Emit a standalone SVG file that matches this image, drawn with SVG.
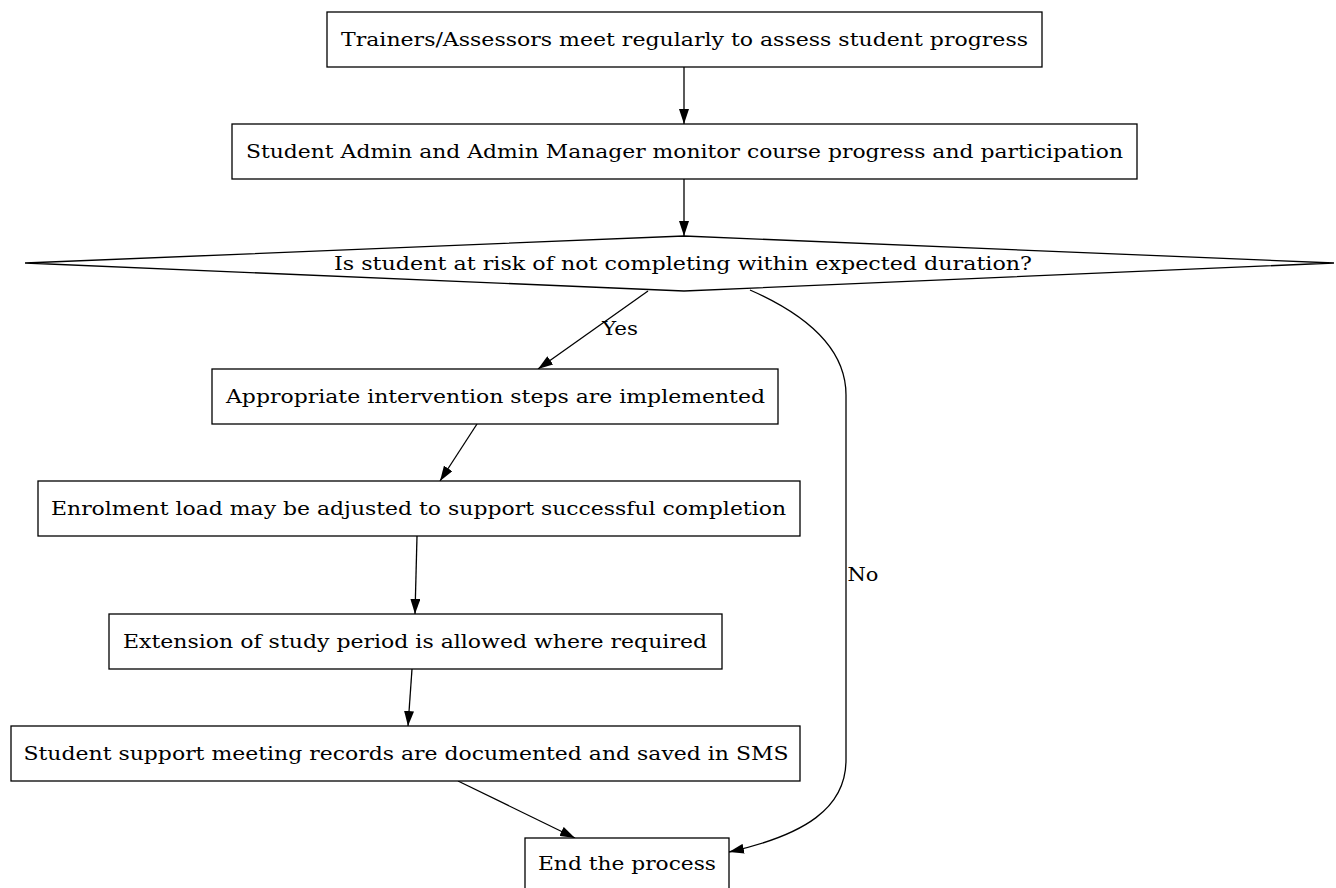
<svg xmlns="http://www.w3.org/2000/svg" width="1336" height="888" viewBox="0 0 1336 888">
<defs>
<marker id="ah" viewBox="0 0 15 10" refX="15" refY="5" markerWidth="15" markerHeight="10" markerUnits="userSpaceOnUse" orient="auto">
<path d="M0,0 L15,5 L0,10 Z" fill="#000"/>
</marker>
<style>
.n{fill:#fff;stroke:#000;stroke-width:1.3}
.t{font-family:"DejaVu Serif","Liberation Serif",serif;font-size:18.7px;fill:#000;text-anchor:middle}
.e{fill:none;stroke:#000;stroke-width:1.3;marker-end:url(#ah)}
</style>
</defs>
<rect width="1336" height="888" fill="#fff"/>
<g id="connectors">
<path class="e" d="M684,67 L684,124"/>
<path class="e" d="M684,179 L684,236"/>
<path class="e" d="M648,291 L538,369"/>
<path class="e" d="M750,290 C800,312 846,345 846,395 L846,760 C846,808 805,835 729,852"/>
<path class="e" d="M477,424 L440,481"/>
<path class="e" d="M417,536 L415,614"/>
<path class="e" d="M412,669 L408,726"/>
<path class="e" d="M458,781 L575,838"/>
<text class="t" x="620" y="335" textLength="36" lengthAdjust="spacingAndGlyphs">Yes</text>
<text class="t" x="863" y="581" textLength="31" lengthAdjust="spacingAndGlyphs">No</text>
</g>
<g id="n1"><rect class="n" x="327" y="12" width="715" height="55"/><text class="t" x="684.5" y="46" textLength="687" lengthAdjust="spacingAndGlyphs">Trainers/Assessors meet regularly to assess student progress</text></g>
<g id="n2"><rect class="n" x="232" y="124" width="905" height="55"/><text class="t" x="684.5" y="158" textLength="877" lengthAdjust="spacingAndGlyphs">Student Admin and Admin Manager monitor course progress and participation</text></g>
<g id="n3"><polygon class="n" points="684,236 1334,263 684,291 25,263"/><text class="t" x="683" y="270" textLength="698" lengthAdjust="spacingAndGlyphs">Is student at risk of not completing within expected duration?</text></g>
<g id="n4"><rect class="n" x="212" y="369" width="566" height="55"/><text class="t" x="495.5" y="403" textLength="539" lengthAdjust="spacingAndGlyphs">Appropriate intervention steps are implemented</text></g>
<g id="n5"><rect class="n" x="38" y="481" width="762" height="55"/><text class="t" x="418.5" y="515" textLength="735" lengthAdjust="spacingAndGlyphs">Enrolment load may be adjusted to support successful completion</text></g>
<g id="n6"><rect class="n" x="109" y="614" width="613" height="55"/><text class="t" x="415" y="648" textLength="584" lengthAdjust="spacingAndGlyphs">Extension of study period is allowed where required</text></g>
<g id="n7"><rect class="n" x="11" y="726" width="789" height="55"/><text class="t" x="406" y="760" textLength="765" lengthAdjust="spacingAndGlyphs">Student support meeting records are documented and saved in SMS</text></g>
<g id="n8"><rect class="n" x="525" y="838" width="204" height="55"/><text class="t" x="627" y="870" textLength="178" lengthAdjust="spacingAndGlyphs">End the process</text></g>
</svg>
